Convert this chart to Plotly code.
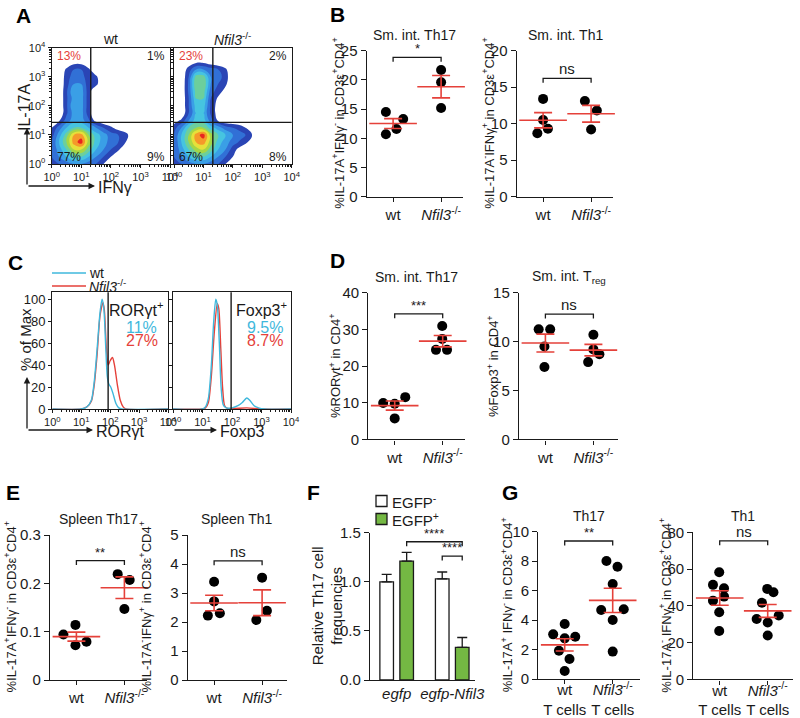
import numpy as np
import plotly.graph_objects as go

W, H = 800, 718
FONT = 'Liberation Sans, Arial, sans-serif'
INK = '#1a1a1a'
RED = '#e5413a'
CYAN = '#3fb8dc'
GREEN = '#74b843'

# ---------------- data ----------------
# A: flow density (log10 IFNg on x, log10 IL-17A on y), arbitrary density units
flow_x = [0, 0.25, 0.5, 0.75, 1.0, 1.25, 1.5, 1.75, 2.0, 2.25, 2.5, 2.75, 3.0]
flow_y = [0, 0.25, 0.5, 0.75, 1.0, 1.25, 1.5, 1.75, 2.0, 2.25, 2.5, 2.75, 3.0, 3.25, 3.5, 3.75]
dens_wt = [
    [1.5, 2, 2.5, 3, 3, 2.5, 2, 1, 0, 0, 0, 0, 0],
    [2, 3, 4, 5, 5, 4, 3, 2, 1, 0, 0, 0, 0],
    [2, 3.5, 5, 7, 7, 5.5, 4, 3, 2, 1.2, 0, 0, 0],
    [2, 4, 6, 8.5, 9.5, 6.5, 4.5, 3.5, 2.5, 2, 1, 0, 0],
    [1.5, 3.5, 5.5, 8, 8.5, 6, 4.5, 3.5, 2.5, 2, 1.5, 0, 0],
    [1, 2.5, 4, 5, 5, 4, 3, 2, 1.2, 0.5, 0, 0, 0],
    [0, 0.8, 2.5, 3.5, 3.5, 2.2, 0.5, 0, 0, 0, 0, 0, 0],
    [0, 0, 1.8, 3.5, 3.5, 1.4, 0, 0, 0, 0, 0, 0, 0],
    [0, 0, 1.8, 4, 3.5, 1.4, 0, 0, 0, 0, 0, 0, 0],
    [0, 0, 1.8, 3.5, 3.5, 1.4, 0, 0, 0, 0, 0, 0, 0],
    [0, 0, 1.8, 4, 3.5, 1.4, 0, 0, 0, 0, 0, 0, 0],
    [0, 0, 1.6, 3, 3, 1.4, 1.3, 0, 0, 0, 0, 0, 0],
    [0, 0, 1.5, 2.5, 2.5, 1.3, 1.2, 0, 0, 0, 0, 0, 0],
    [0, 0, 1.2, 2, 2, 1.2, 0, 0, 0, 0, 0, 0, 0],
    [0, 0, 0, 0.6, 0.6, 0, 0, 0, 0, 0, 0, 0, 0],
    [0, 0, 0, 0, 0, 0, 0, 0, 0, 0, 0, 0, 0],
]
dens_ko = [
    [1.5, 2, 2.5, 3, 3, 2.5, 2, 1, 0, 0, 0, 0, 0],
    [2, 3, 4, 5, 5, 4, 3, 2, 1, 0, 0, 0, 0],
    [2, 3.5, 5, 6.5, 7, 5.5, 4, 3, 1.5, 0.5, 0, 0, 0],
    [2, 4, 6, 8, 8.5, 6.5, 4.5, 3.5, 2.5, 1.8, 1, 0, 0],
    [2, 4, 6, 8.5, 9.5, 6.5, 5, 4, 3, 2.5, 1.8, 0.5, 0],
    [1.5, 3, 5, 6, 6, 4.5, 3.5, 2.5, 2, 1.5, 0.8, 0, 0],
    [0.5, 1.2, 3, 4.5, 4.5, 2.5, 0.8, 0, 0, 0, 0, 0, 0],
    [0, 0, 2, 4, 4, 1.8, 0.5, 0, 0, 0, 0, 0, 0],
    [0, 0, 2, 4.5, 4.5, 1.8, 0.5, 0, 0, 0, 0, 0, 0],
    [0, 0, 2, 5, 5, 2, 0.8, 0, 0, 0, 0, 0, 0],
    [0, 0, 2.2, 5.5, 5.5, 2.5, 1.5, 0.6, 0, 0, 0, 0, 0],
    [0, 0, 2.2, 6, 6, 3, 2, 1.2, 0, 0, 0, 0, 0],
    [0, 0, 2, 5.5, 5.5, 3, 2.5, 1.5, 0, 0, 0, 0, 0],
    [0, 0, 1.5, 3, 3, 2.5, 2, 1.2, 0, 0, 0, 0, 0],
    [0, 0, 0.3, 0.8, 0.8, 0.3, 0, 0, 0, 0, 0, 0, 0],
    [0, 0, 0, 0, 0, 0, 0, 0, 0, 0, 0, 0, 0],
]
a_gate = (1.32, 1.43)
a_pct_wt = ['13%', '1%', '77%', '9%']
a_pct_ko = ['23%', '2%', '67%', '8%']

# C: histograms (% of max vs log10 intensity)
ror_wt_x = [0, 1.0, 1.2, 1.35, 1.45, 1.55, 1.65, 1.72, 1.78, 1.85, 1.9, 1.95, 2.02, 2.1, 2.2, 2.3, 2.4, 4]
ror_wt_y = [0, 0, 2, 8, 25, 55, 88, 100, 92, 55, 30, 23, 20, 14, 5, 1, 0, 0]
ror_ko_x = [0, 1.0, 1.2, 1.35, 1.45, 1.55, 1.65, 1.75, 1.8, 1.87, 1.93, 2.0, 2.08, 2.15, 2.25, 2.35, 2.45, 2.55, 4]
ror_ko_y = [0, 0, 2, 7, 22, 50, 85, 97, 90, 55, 40, 44, 47, 40, 22, 8, 2, 0, 0]
fox_wt_x = [0, 1.0, 1.1, 1.2, 1.3, 1.38, 1.45, 1.5, 1.57, 1.63, 1.7, 1.8, 2.0, 2.2, 2.35, 2.5, 2.6, 2.75, 2.9, 3.1, 4]
fox_wt_y = [0, 0, 2, 10, 40, 80, 100, 95, 60, 20, 4, 1, 1, 3, 6, 10, 8, 3, 1, 0, 0]
fox_ko_x = [0, 1.0, 1.1, 1.2, 1.3, 1.4, 1.5, 1.55, 1.62, 1.68, 1.75, 1.85, 2.5, 3.0, 4]
fox_ko_y = [0, 0, 1, 6, 30, 70, 96, 92, 55, 20, 3, 0.5, 1, 0, 0]
c_gates = [1.93, 1.97]

# B, D, E, G: individual mice (value, horizontal jitter)
b_th17_wt = [14.5, 13.3, 10.7, 11.6]; b_th17_wt_j = [-0.15, 0.21, -0.15, 0.07]
b_th17_ko = [21.7, 19.6, 15.2];       b_th17_ko_j = [0, 0, 0]
b_th1_wt = [13.4, 10.5, 9.3, 8.7];    b_th1_wt_j = [0, 0, 0.1, -0.12]
b_th1_ko = [13.1, 11.8, 9.2];         b_th1_ko_j = [-0.13, 0.12, 0]
d_ror_wt = [9.9, 9.7, 11.5, 5.7];     d_ror_wt_j = [-0.24, 0, 0.22, 0]
d_ror_ko = [30.9, 27.4, 24.4, 24.4];  d_ror_ko_j = [-0.01, -0.01, -0.14, 0.09]
d_fox_wt = [11.25, 11.25, 9.5, 7.4];  d_fox_wt_j = [-0.14, 0.1, -0.02, -0.02]
d_fox_ko = [10.7, 9.2, 8.7, 7.9];     d_fox_ko_j = [0, 0, 0.125, -0.11]
e_th17_wt = [0.114, 0.094, 0.079, 0.072]; e_th17_wt_j = [-0.02, -0.27, 0.21, -0.02]
e_th17_ko = [0.219, 0.207, 0.147];        e_th17_ko_j = [-0.14, 0.11, 0]
e_th1_wt = [3.39, 2.71, 2.22, 2.30];  e_th1_wt_j = [0, 0, -0.13, 0.12]
e_th1_ko = [3.53, 2.39, 2.07];        e_th1_ko_j = [0, 0.1, -0.12]
g_th17_wt = [3.03, 3.73, 2.76, 2.87, 1.92, 1.36, 0.54]; g_th17_wt_j = [-0.24, 0, 0, 0.22, -0.12, 0.1, 0]
g_th17_ko = [8.01, 7.62, 6.45, 4.68, 4.73, 4.0, 1.86];  g_th17_ko_j = [-0.13, 0.1, 0, -0.24, 0.23, 0, 0]
g_th1_wt = [58.3, 51.4, 49.5, 45.0, 42.8, 36.5, 26.3];  g_th1_wt_j = [-0.01, -0.14, 0.09, 0.09, -0.14, -0.01, -0.01]
g_th1_ko = [49.2, 47.4, 41.7, 32.8, 34.7, 30.9, 23.8];  g_th1_ko_j = [-0.01, 0.12, -0.12, -0.23, 0.23, 0, 0]

# F: relative Th17 frequencies (mean, SEM)
f_groups = ['egfp', 'egfp-Nfil3']
f_neg = [1.0, 1.03];  f_neg_err = [0.076, 0.07]
f_pos = [1.21, 0.333]; f_pos_err = [0.09, 0.10]


# ---------------- layout helpers ----------------
def px(x):
    return x / W


def py(y):
    return 1 - y / H


def xn(n):
    return 'x' if n == 1 else 'x%d' % n


def yn(n):
    return 'y' if n == 1 else 'y%d' % n


# plot boxes in pixels: left, right, top, bottom
boxes = {
    1: (51.7, 170, 47.7, 164), 2: (174, 291.7, 47.7, 164),
    3: (366.7, 462.7, 50.7, 196.7), 4: (516.7, 613.3, 50.7, 196.7),
    5: (52.3, 168, 292.3, 409), 6: (173, 291, 292.3, 409),
    7: (368.3, 465, 292.7, 439.3), 8: (519, 618.3, 292.7, 439.3),
    9: (50, 147, 535, 680), 10: (187.7, 287, 535, 680),
    11: (370, 475, 532.7, 680),
    12: (538.3, 640, 531.7, 679), 13: (693.3, 793.3, 532.3, 679.3),
}

fig = go.Figure()
layout = {}
ann = []
shapes = []


def note(text, x, y, size=15, color=INK, xanchor='center', yanchor='middle', angle=0):
    ann.append(dict(text=text, x=px(x), y=py(y), xref='paper', yref='paper', showarrow=False,
                    font=dict(size=size, color=color, family=FONT),
                    xanchor=xanchor, yanchor=yanchor, textangle=angle))


def arrow(x, y, ax, ay):
    ann.append(dict(text='', x=px(x), y=py(y), xref='paper', yref='paper', showarrow=True,
                    ax=ax, ay=ay, arrowhead=2, arrowsize=1, arrowwidth=1.3, arrowcolor=INK,
                    standoff=0, startstandoff=0))


def axis_base():
    return dict(showline=True, linecolor=INK, linewidth=1.4, ticks='outside', tickcolor=INK,
                tickwidth=1.3, showgrid=False, zeroline=False, automargin=False,
                tickfont=dict(size=15, color=INK, family=FONT))


def set_axes(n, xopt, yopt):
    l, r, t, b = boxes[n]
    xa = axis_base(); xa.update(domain=[px(l), px(r)], anchor=yn(n)); xa.update(xopt)
    ya = axis_base(); ya.update(domain=[py(b), py(t)], anchor=xn(n)); ya.update(yopt)
    layout['xaxis' if n == 1 else 'xaxis%d' % n] = xa
    layout['yaxis' if n == 1 else 'yaxis%d' % n] = ya


def cx(n):
    l, r, t, b = boxes[n]
    return (l + r) / 2


def cy(n):
    l, r, t, b = boxes[n]
    return (t + b) / 2


# ---------------- A: flow density plots ----------------
flow_cs = [[0, 'white'], [0.05, 'white'], [0.06, '#2a45b5'], [0.111, '#2a45b5'],
           [0.222, '#3170d6'], [0.333, '#3a9fe6'], [0.444, '#46c4e0'], [0.555, '#6ccf9c'],
           [0.666, '#a5d646'], [0.777, '#e6e03a'], [0.888, '#f59a2a'], [1, '#e8251f']]
exp_ticks = [0, 1, 2, 3, 4]
exp_text = ['10<sup>%d</sup>' % e for e in exp_ticks]
minor_vals = [float(np.log10(k * 10 ** e)) for e in range(4) for k in range(2, 10)]


def log_axis(show):
    return dict(range=[0, 4], tickvals=exp_ticks, ticktext=exp_text, mirror=True, ticklen=3,
                showticklabels=show, tickfont=dict(size=11, color=INK, family=FONT),
                minor=dict(tickvals=minor_vals, ticks='outside', ticklen=2, tickcolor=INK))


for n, dens, pct in [(1, dens_wt, a_pct_wt), (2, dens_ko, a_pct_ko)]:
    fig.add_trace(go.Contour(x=flow_x, y=flow_y, z=dens, xaxis=xn(n), yaxis=yn(n),
                             colorscale=flow_cs, showscale=False, hoverinfo='skip',
                             contours=dict(coloring='fill', showlines=False, start=1, end=9, size=1),
                             line=dict(width=0, smoothing=1.3)))
    set_axes(n, log_axis(True), log_axis(n == 1))
    shapes.append(dict(type='line', xref=xn(n), yref=yn(n) + ' domain', x0=a_gate[0], x1=a_gate[0],
                       y0=0, y1=1, line=dict(color=INK, width=1.4)))
    shapes.append(dict(type='line', xref=xn(n) + ' domain', yref=yn(n), x0=0, x1=1,
                       y0=a_gate[1], y1=a_gate[1], line=dict(color=INK, width=1.4)))
    l, r, t, b = boxes[n]
    note(pct[0], l + 3, t + 8, size=12, color=RED, xanchor='left')
    note(pct[1], r - 3, t + 8, size=12, xanchor='right')
    note(pct[2], l + 3, b - 7, size=12, xanchor='left')
    note(pct[3], r - 3, b - 7, size=12, xanchor='right')

note('wt', cx(1), 39, size=14)
note('<i>Nfil3</i><sup>-/-</sup>', cx(2), 39, size=14)
note('IL-17A', 25, 108, size=16, angle=-90)
arrow(27, 128, 0, 58)
arrow(95, 186, -68, 0)
note('IFNγ', 96, 187, size=16, xanchor='left')

# ---------------- C: histograms ----------------
for n, wx, wy, kx, ky, gate in [(5, ror_wt_x, ror_wt_y, ror_ko_x, ror_ko_y, c_gates[0]),
                                (6, fox_wt_x, fox_wt_y, fox_ko_x, fox_ko_y, c_gates[1])]:
    fig.add_trace(go.Scatter(x=kx, y=ky, xaxis=xn(n), yaxis=yn(n), mode='lines', showlegend=False,
                             line=dict(color=RED, width=1.4, shape='spline', smoothing=0.7),
                             hoverinfo='skip'))
    fig.add_trace(go.Scatter(x=wx, y=wy, xaxis=xn(n), yaxis=yn(n), mode='lines', showlegend=False,
                             line=dict(color=CYAN, width=1.4, shape='spline', smoothing=0.7),
                             hoverinfo='skip'))
    yopt = dict(range=[0, 106.4], tickvals=[0, 20, 40, 60, 80, 100], mirror=True, ticklen=3,
                showticklabels=(n == 5), tickfont=dict(size=13, color=INK, family=FONT))
    set_axes(n, log_axis(True), yopt)
    shapes.append(dict(type='line', xref=xn(n), yref=yn(n) + ' domain', x0=gate, x1=gate,
                       y0=0, y1=1, line=dict(color=INK, width=1.4)))

# legend for C
for color, label, y in [(CYAN, 'wt', 273), (RED, '<i>Nfil3</i><sup>-/-</sup>', 286)]:
    shapes.append(dict(type='line', xref='paper', yref='paper', x0=px(52), x1=px(86),
                       y0=py(y), y1=py(y), line=dict(color=color, width=1.4)))
    note(label, 87, y, size=14, xanchor='left')

note('RORγt<sup>+</sup>', 166, 309, size=16, xanchor='right')
note('11%', 141.7, 327, size=16, color=CYAN)
note('27%', 141.7, 341, size=16, color=RED)
note('Foxp3<sup>+</sup>', 289, 309, size=16, xanchor='right')
note('9.5%', 265, 327, size=16, color=CYAN)
note('8.7%', 265, 341, size=16, color=RED)
note('% of Max', 26, 340, size=15, angle=-90)
arrow(27, 377, 0, 53)
arrow(93, 430, -66, 0)
note('RORγt', 94, 431, size=16, xanchor='left')
arrow(217, 430, -44, 0)
note('Foxp3', 218, 431, size=16, xanchor='left')


# ---------------- dot plots ----------------
def bracket(n, x0, x1, h, drop, text, size):
    fig.add_trace(go.Scatter(x=[x0, x0, x1, x1], y=[h - drop, h, h, h - drop], mode='lines',
                             xaxis=xn(n), yaxis=yn(n), showlegend=False, hoverinfo='skip',
                             line=dict(color=INK, width=1.3), cliponaxis=False))
    ann.append(dict(text=text, x=(x0 + x1) / 2, y=h, xref=xn(n), yref=yn(n),
                    showarrow=False, yanchor='bottom', yshift=-1,
                    font=dict(size=size, color=INK, family=FONT)))


def dot_panel(n, wt, wt_j, ko, ko_j, ymax, dtick, title, ytitle, title_x, sig, sig_h,
              tick_text=None, label_shift=0):
    for k, (vals, jit) in enumerate([(wt, wt_j), (ko, ko_j)]):
        fig.add_trace(go.Scatter(x=[k + j for j in jit], y=vals, mode='markers',
                                 xaxis=xn(n), yaxis=yn(n), showlegend=False,
                                 cliponaxis=False, hoverinfo='skip',
                                 marker=dict(color='black', size=10)))
    means = [float(np.mean(v)) for v in (wt, ko)]
    sems = [float(np.std(v, ddof=1) / np.sqrt(len(v))) for v in (wt, ko)]
    fig.add_trace(go.Scatter(x=[0, 1], y=means, mode='markers', xaxis=xn(n), yaxis=yn(n),
                             showlegend=False, hoverinfo='skip', cliponaxis=False,
                             marker=dict(symbol='line-ew', size=34, color=RED,
                                         line=dict(color=RED, width=1.6)),
                             error_y=dict(type='data', array=sems, color=RED, thickness=1.6, width=9)))
    if tick_text is None:
        tick_text = ['wt', '<i>Nfil3</i><sup>-/-</sup>']
    l, r, t, b = boxes[n]
    unit = 48.0
    x_lo = -0.55
    x_hi = x_lo + (r - l) / unit
    set_axes(n, dict(range=[x_lo, x_hi], tickvals=[0, 1], ticktext=tick_text, ticklen=4,
                     ticklabelstandoff=label_shift),
             dict(range=[0, ymax], dtick=dtick, ticklen=5))
    bracket(n, 0, 1, sig_h, ymax * 0.03, sig, 15 if sig == 'ns' else 13)
    note(title, cx(n), t - 16, size=14)
    note(ytitle, title_x, cy(n), size=13, angle=-90)


t17 = '%IL-17A<sup>+</sup>IFNγ<sup>-</sup> in CD3ε<sup>+</sup>CD4<sup>+</sup>'
t1 = '%IL-17A<sup>-</sup>IFNγ<sup>+</sup> in CD3ε<sup>+</sup>CD4<sup>+</sup>'

dot_panel(3, b_th17_wt, b_th17_wt_j, b_th17_ko, b_th17_ko_j, 25, 5, 'Sm. int. Th17', t17, 338, '*', 23.86)
dot_panel(4, b_th1_wt, b_th1_wt_j, b_th1_ko, b_th1_ko_j, 20, 5, 'Sm. int. Th1', t1, 488, 'ns', 16.2)
dot_panel(7, d_ror_wt, d_ror_wt_j, d_ror_ko, d_ror_ko_j, 40, 10, 'Sm. int. Th17',
          '%RORγt<sup>+</sup> in CD4<sup>+</sup>', 335, '***', 34.2)
dot_panel(8, d_fox_wt, d_fox_wt_j, d_fox_ko, d_fox_ko_j, 15, 5, 'Sm. int. T<sub>reg</sub>',
          '%Foxp3<sup>+</sup> in CD4<sup>+</sup>', 493, 'ns', 12.8)
dot_panel(9, e_th17_wt, e_th17_wt_j, e_th17_ko, e_th17_ko_j, 0.3, 0.1, 'Spleen Th17', t17, 10, '**', 0.247)
dot_panel(10, e_th1_wt, e_th1_wt_j, e_th1_ko, e_th1_ko_j, 5, 1, 'Spleen Th1', t1, 145, 'ns', 4.11)
tc_text = ['wt<br>T cells', '<i>Nfil3</i><sup>-/-</sup><br>T cells']
dot_panel(12, g_th17_wt, g_th17_wt_j, g_th17_ko, g_th17_ko_j, 10, 2, 'Th17',
          '%IL-17A<sup>+</sup> IFNγ<sup>-</sup> in CD3ε<sup>+</sup>CD4<sup>+</sup>', 507, '**', 9.37,
          tc_text, -7)
dot_panel(13, g_th1_wt, g_th1_wt_j, g_th1_ko, g_th1_ko_j, 80, 20, 'Th1',
          '%IL-17A<sup>-</sup> IFNγ<sup>+</sup> in CD3ε<sup>+</sup>CD4<sup>+</sup>', 665, 'ns', 75.3,
          tc_text, -7)

# ---------------- F: bars ----------------
f_x = [0, 1]
bar_off = 0.18
for vals, errs, color in [(f_neg, f_neg_err, 'white'), (f_pos, f_pos_err, GREEN)]:
    fig.add_trace(go.Bar(x=f_x, y=vals, xaxis='x11', yaxis='y11', showlegend=False,
                         marker=dict(color=color, line=dict(color=INK, width=1.3)),
                         error_y=dict(type='data', symmetric=False, array=errs, arrayminus=[0, 0],
                                      color=INK, thickness=1.3, width=5), hoverinfo='skip'))
set_axes(11, dict(range=[-0.48, 1.41], tickvals=f_x, ticktext=['<i>%s</i>' % g for g in f_groups], ticks=''),
         dict(range=[0, 1.5], dtick=0.5, tickformat='.1f', ticklen=5))
bracket(11, f_x[0] + bar_off, f_x[1] + bar_off, 1.408, 0.045, '****', 13)
bracket(11, f_x[1] - bar_off, f_x[1] + bar_off, 1.262, 0.045, '****', 13)
note('Relative Th17 cell<br>frequencies', 327, cy(11), size=15, angle=-90)

# legend for F
for color, label, y in [('white', 'EGFP<sup>-</sup>', 501), (GREEN, 'EGFP<sup>+</sup>', 519)]:
    shapes.append(dict(type='rect', xref='paper', yref='paper', x0=px(376), x1=px(387),
                       y0=py(y + 5.5), y1=py(y - 5.5), fillcolor=color,
                       line=dict(color=INK, width=1.3)))
    note(label, 390, y, size=15, xanchor='left')

# panel letters
for letter, x, y in [('A', 23, 15), ('B', 337, 14), ('C', 15, 262), ('D', 337, 260),
                     ('E', 13, 492), ('F', 313, 492), ('G', 510, 492)]:
    note('<b>%s</b>' % letter, x, y, size=21, color='black')

layout.update(
    width=W, height=H, margin=dict(l=0, r=0, t=0, b=0, autoexpand=False),
    paper_bgcolor='white', plot_bgcolor='white', showlegend=False,
    font=dict(family=FONT, color=INK),
    barmode='group', bargap=0.28, bargroupgap=0.32,
    annotations=ann, shapes=shapes,
)
fig.update_layout(layout)
fig.write_html('out.html', config={'displayModeBar': False},
               post_script="document.body.style.margin='0px';")
